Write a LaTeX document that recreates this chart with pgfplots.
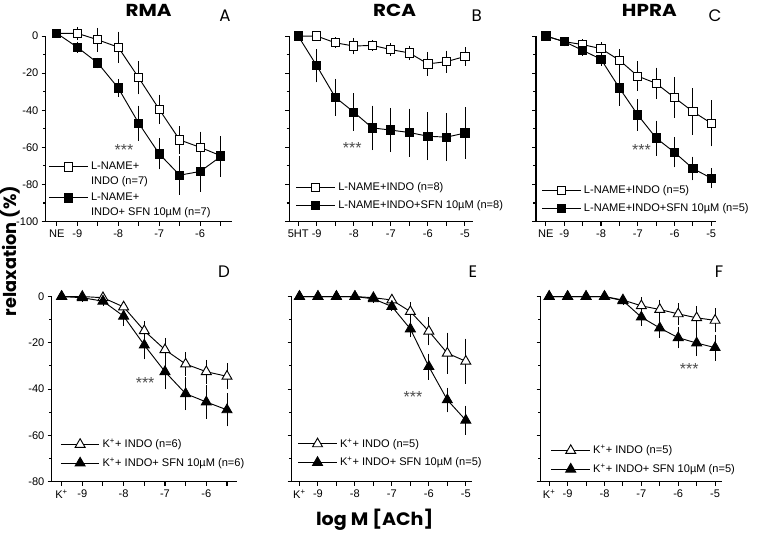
\documentclass[border=0pt]{standalone}
\usepackage{fontspec}
\setmainfont{Liberation Sans}
\newfontfamily\gothic{Poppins}
\usepackage{pgfplots}
\pgfplotsset{compat=1.18}
\usepackage{pgfplotstable}

\pgfplotsset{
  mypanel/.style={
    scale only axis, anchor=south west, clip=false,
    axis x line=bottom, axis y line=left,
    x axis line style={-}, y axis line style={-},
    axis line style={line width=0.9pt},
    tick align=outside, tick style={black, line width=0.8pt},
    major tick length=3pt, minor tick length=2pt,
    minor y tick num=1,
    ticklabel style={font=\fontsize{8.3}{9}\selectfont},
    yticklabel style={xshift=1pt},
    legend style={draw=none, fill=none, anchor=north west,
      font=\fontsize{8.3}{10}\selectfont, cells={anchor=west},
      inner sep=0pt, row sep=2.3pt},
    legend image code/.code={\draw[mark repeat=2, mark phase=2] plot coordinates {(0pt,0pt) (14.5pt,0pt) (29pt,0pt)};},
  },
  top/.style={ymin=-100, ymax=0, ytick={-100,-80,-60,-40,-20,0}, height=139.1pt},
  bot/.style={ymin=-80, ymax=0, ytick={-80,-60,-40,-20,0}, height=138.75pt},
  opensq/.style={black, line width=0.7pt, mark=square*, mark size=3.1pt, mark options={fill=white, solid},
    error bars/.cd, y dir=both, y explicit, error bar style={line width=0.6pt}, error mark options={mark size=2pt, line width=0.6pt}},
  fillsq/.style={black, line width=0.7pt, mark=square*, mark size=3.1pt, mark options={fill=black, solid},
    error bars/.cd, y dir=both, y explicit, error bar style={line width=0.6pt}, error mark options={mark size=2pt, line width=0.6pt}},
  opentr/.style={black, line width=0.7pt, mark=triangle*, mark size=4.3pt, mark options={fill=white, solid},
    error bars/.cd, y dir=both, y explicit, error bar style={line width=0.6pt}, error mark options={mark size=2pt, line width=0.6pt}},
  filltr/.style={black, line width=0.7pt, mark=triangle*, mark size=4.3pt, mark options={fill=black, solid},
    error bars/.cd, y dir=both, y explicit, error bar style={line width=0.6pt}, error mark options={mark size=2pt, line width=0.6pt}},
}
\newcommand{\stars}{\fontsize{12}{12}\selectfont\color{black!70}***}
\newcommand{\twoline}[2]{\smash{\rlap{\raisebox{-11.25pt}{#2}}}#1}

\begin{document}
\begin{tikzpicture}
% ---------------- A : RMA
\begin{axis}[mypanel, top, at={(34.28pt,233.6pt)}, width=139.5pt,
  xmin=-9.77, xmax=-5.23,
  xtick={-9.5,-9,-8.5,-8,-7.5,-7,-6.5,-6,-5.5},
  xticklabels={NE,-9,,-8,,-7,,-6,},
  yticklabels={-100,-80,-60,-40,-20,0},
  legend style={at={(0.015,0.336)}, row sep=12pt}]
\addplot+[opensq] table[x=x,y=y,y error=e]{
x y e
-9.5 1.5 0
-9 1.5 2
-8.5 -2 5
-8 -6 7
-7.5 -22.5 7.5
-7 -39.5 6.5
-6.5 -56 6
-6 -60 7
-5.5 -64.5 9
};
\addlegendentry{\twoline{L-NAME+}{INDO (n=7)}}
\addplot+[fillsq] table[x=x,y=y,y error=e]{
x y e
-9.5 1.5 0
-9 -6 1.5
-8.5 -14.5 1.5
-8 -28 3.5
-7.5 -47 8
-7 -63.5 7
-6.5 -75 9
-6 -73 9.5
-5.5 -65 9.5
};
\addlegendentry{\twoline{L-NAME+}{INDO+ SFN 10µM (n=7)}}
\node[yshift=-2.5pt] at (axis cs:-7.86,-59.7) {\stars};
\end{axis}
% ---------------- B : RCA
\begin{axis}[mypanel, top, at={(216.98pt,233.6pt)}, width=137.55pt,
  xmin=-9.74, xmax=-4.79,
  xtick={-9.5,-9,-8.5,-8,-7.5,-7,-6.5,-6,-5.5,-5},
  xticklabels={5HT,-9,,-8,,-7,,-6,,-5},
  yticklabels={},
  legend style={at={(0.035,0.228)}}]
\addplot+[opensq] table[x=x,y=y,y error=e]{
x y e
-9.5 0 0
-9 0 0
-8.5 -3.6 1.5
-8 -5.4 3
-7.5 -5 1.5
-7 -7.3 2
-6.5 -9.1 2.5
-6 -15 5
-5.5 -13.8 4.5
-5 -11 3.5
};
\addlegendentry{L-NAME+INDO (n=8)}
\addplot+[fillsq] table[x=x,y=y,y error=e]{
x y e
-9.5 0 0
-9 -16 7.5
-8.5 -33 8.5
-8 -41 8.7
-7.5 -49.5 10.5
-7 -50.7 10.5
-6.5 -52 11.5
-6 -54 11.5
-5.5 -54.5 11.5
-5 -52.3 12.5
};
\addlegendentry{L-NAME+INDO+SFN 10µM (n=8)}
\node[yshift=-2.5pt] at (axis cs:-8.04,-58.4) {\stars};
\end{axis}
% ---------------- C : HPRA
\begin{axis}[mypanel, top, at={(402pt,233.6pt)}, width=135pt,
  xmin=-9.77, xmax=-4.87,
  xtick={-9.5,-9,-8.5,-8,-7.5,-7,-6.5,-6,-5.5,-5},
  xticklabels={NE,-9,,-8,,-7,,-6,,-5},
  yticklabels={},
  legend style={at={(0.03,0.211)}}]
\addplot+[opensq] table[x=x,y=y,y error=e]{
x y e
-9.5 0 0
-9 -3 1
-8.5 -4.6 1.5
-8 -6.8 2
-7.5 -13 4.5
-7 -21.6 6.5
-6.5 -25.5 7
-6 -33.2 9.5
-5.5 -40.7 11
-5 -47 11
};
\addlegendentry{L-NAME+INDO (n=5)}
\addplot+[fillsq] table[x=x,y=y,y error=e]{
x y e
-9.5 0 0
-9 -3 1
-8.5 -7.7 1.5
-8 -12.5 2
-7.5 -28 8
-7 -42.5 7
-6.5 -55 8
-6 -62.7 6.7
-5.5 -71.4 5
-5 -76.6 4
};
\addlegendentry{L-NAME+INDO+SFN 10µM (n=5)}
\node[yshift=-2.5pt] at (axis cs:-6.9,-59.7) {\stars};
\end{axis}
% ---------------- D
\begin{axis}[mypanel, bot, at={(38.78pt,38.6pt)}, width=139.2pt,
  xmin=-9.74, xmax=-5.25,
  xtick={-9.5,-9,-8.5,-8,-7.5,-7,-6.5,-6,-5.5},
  xticklabels={K\textsuperscript{+},-9,,-8,,-7,,-6,},
  yticklabels={-80,-60,-40,-20,0},
  legend style={at={(0.045,0.244)}}]
\addplot+[opentr] table[x=x,y=y,y error=e]{
x y e
-9.5 0 0
-9 0 0
-8.5 -0.5 1
-8 -4.5 1.5
-7.5 -14.8 3
-7 -23 4
-6.5 -29.2 4
-6 -32.5 4
-5.5 -34.5 4.5
};
\addlegendentry{K\textsuperscript{+}+ INDO (n=6)}
\addplot+[filltr] table[x=x,y=y,y error=e]{
x y e
-9.5 0 0
-9 -0.5 0.5
-8.5 -2 1
-8 -8.5 3
-7.5 -21 5
-7 -32.5 6.5
-6.5 -42 6
-6 -45.6 6
-5.5 -49 6
};
\addlegendentry{K\textsuperscript{+}+ INDO+ SFN 10µM (n=6)}
\node[yshift=-2.5pt] at (axis cs:-7.48,-36.1) {\stars};
\end{axis}
% ---------------- E
\begin{axis}[mypanel, bot, at={(218.78pt,38.6pt)}, width=135pt,
  xmin=-9.71, xmax=-4.84,
  xtick={-9.5,-9,-8.5,-8,-7.5,-7,-6.5,-6,-5.5,-5},
  xticklabels={K\textsuperscript{+},-9,,-8,,-7,,-6,,-5},
  yticklabels={},
  legend style={at={(0.032,0.247)}}]
\addplot+[opentr] table[x=x,y=y,y error=e]{
x y e
-9.5 0 0
-9 0 0
-8.5 0 0
-8 0 0
-7.5 -0.5 0
-7 -1.5 1
-6.5 -6.5 3
-6 -15 5
-5.5 -24.5 7.7
-5 -28 8.6
};
\addlegendentry{K\textsuperscript{+}+ INDO (n=5)}
\addplot+[filltr] table[x=x,y=y,y error=e]{
x y e
-9.5 0 0
-9 0 0
-8.5 0 0
-8 0 0
-7.5 -1 0.5
-7 -4.3 1
-6.5 -14 2.5
-6 -30.3 4.5
-5.5 -44.7 4.2
-5 -53.5 5.2
};
\addlegendentry{K\textsuperscript{+}+ INDO+ SFN 10µM (n=5)}
\node[yshift=-2.5pt] at (axis cs:-6.43,-42.2) {\stars};
\end{axis}
% ---------------- F
\begin{axis}[mypanel, bot, at={(405.53pt,38.6pt)}, width=135.75pt,
  xmin=-9.73, xmax=-4.82,
  xtick={-9.5,-9,-8.5,-8,-7.5,-7,-6.5,-6,-5.5,-5},
  xticklabels={K\textsuperscript{+},-9,,-8,,-7,,-6,,-5},
  yticklabels={},
  legend style={at={(0.055,0.211)}}]
\addplot+[opentr] table[x=x,y=y,y error=e]{
x y e
-9.5 0 0
-9 0 0
-8.5 0 0
-8 0 0
-7.5 -1.5 0
-7 -4 2.5
-6.5 -5.6 3
-6 -7.5 3.5
-5.5 -9.2 4
-5 -10.3 4
};
\addlegendentry{K\textsuperscript{+}+ INDO (n=5)}
\addplot+[filltr] table[x=x,y=y,y error=e]{
x y e
-9.5 0 0
-9 0 0
-8.5 0 0
-8 0 0
-7.5 -1.8 0.5
-7 -8.9 2.5
-6.5 -13.6 3
-6 -17.8 3.5
-5.5 -20.1 4.5
-5 -22.1 4.5
};
\addlegendentry{K\textsuperscript{+}+ INDO+ SFN 10µM (n=5)}
\node[yshift=-2.5pt] at (axis cs:-5.7,-30) {\stars};
\end{axis}
% ---------------- titles and labels
\begin{scope}[every node/.style={inner sep=0pt}]
\node[font=\gothic\bfseries\fontsize{13}{13}\selectfont, xscale=1.15] at (111.4pt,392pt) {RMA};
\node[font=\gothic\bfseries\fontsize{13}{13}\selectfont, xscale=1.15] at (296pt,391.7pt) {RCA};
\node[font=\gothic\bfseries\fontsize{13}{13}\selectfont, xscale=1.15] at (487pt,391.7pt) {HPRA};
\node[font=\gothic\fontsize{12.5}{12.5}\selectfont] at (168.75pt,387.75pt) {A};
\node[font=\gothic\fontsize{12.5}{12.5}\selectfont] at (357.5pt,387.75pt) {B};
\node[font=\gothic\fontsize{12.5}{12.5}\selectfont] at (536.25pt,387.75pt) {C};
\node[font=\gothic\fontsize{12.5}{12.5}\selectfont] at (168pt,195.75pt) {D};
\node[font=\gothic\fontsize{12.5}{12.5}\selectfont] at (354.75pt,195.75pt) {E};
\node[font=\gothic\fontsize{12.5}{12.5}\selectfont] at (539.25pt,195.75pt) {F};
\node[font=\gothic\bfseries\fontsize{13.3}{13.3}\selectfont, rotate=90] at (7.8pt,211.5pt) {relaxation (\%)};
\node[font=\gothic\bfseries\fontsize{13.5}{13.5}\selectfont, xscale=1.06] at (281pt,9.75pt) {log M [ACh]};
\end{scope}
\pgfresetboundingbox
\path (0pt,0pt) rectangle (571.5pt,399.75pt);
\end{tikzpicture}
\end{document}
